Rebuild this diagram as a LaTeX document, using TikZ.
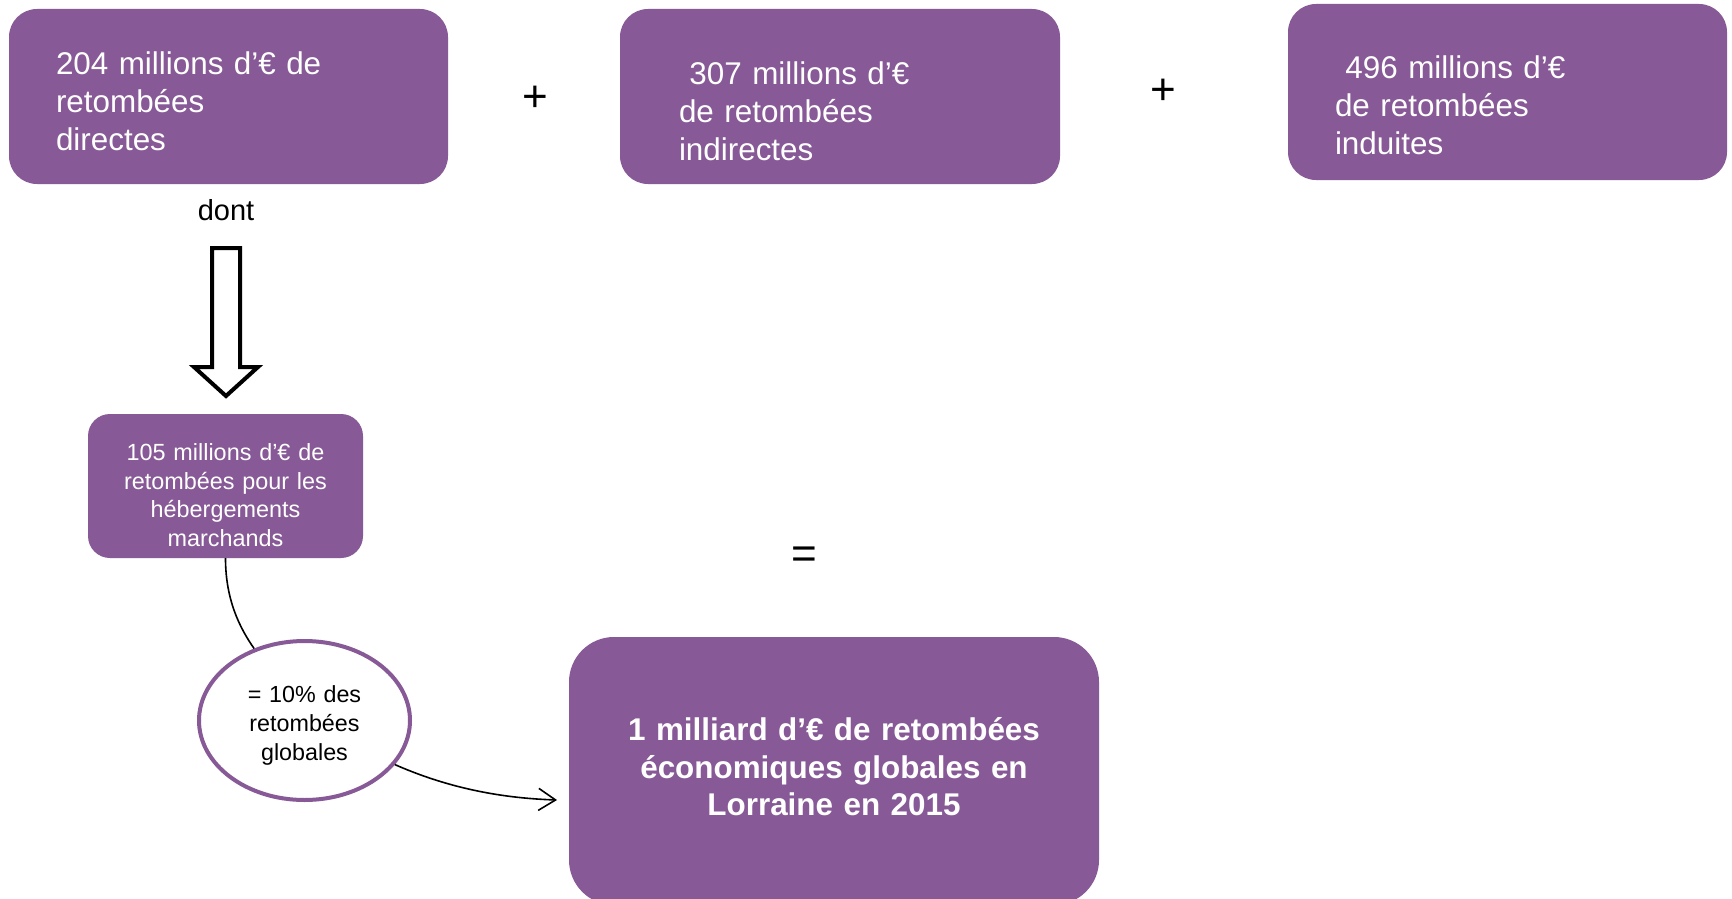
\documentclass[tikz,border=0pt]{standalone}
\usepackage{fontspec}
\setmainfont{Liberation Sans}
\usetikzlibrary{shapes,arrows.meta,positioning}
\definecolor{lorraine}{RGB}{135,89,150}

\begin{document}
\begin{tikzpicture}[
        x=1pt, y=-1pt,
        purple box/.style = {
            rectangle, fill=lorraine, text=white, rounded corners=28pt,
            inner xsep=#1, inner ysep=0pt, align=left,
            font=\fontsize{31.4}{38}\selectfont
        },
        purple box/.default = 47pt,
        sign/.style = {font=\fontsize{44}{50}\selectfont},
        link/.style = {line width=1.6pt}
    ]
    \fill[white] (0,0) rectangle (1732,899);
    \useasboundingbox (0,0) rectangle (1732,899);

    %nodes
    \node [purple box, minimum width=439, minimum height=175, text width=345, text height=32] (direct) at (228.5,96.5) {204 millions d’€ de\\retombées\\directes};
    \node [purple box=59pt, minimum width=440, minimum height=175, text width=322, text height=53] (indirect) at (840,96.5) {\ 307 millions d’€\\de retombées\\indirectes};
    \node [purple box, minimum width=439, minimum height=176, text width=345, text height=49] (induced) at (1507.5,92) {\ 496 millions d’€\\de retombées\\induites};
    \node [purple box=17.5pt, rounded corners=22pt, align=center, minimum width=275, minimum height=144, text width=240, text height=35, font=\fontsize{23.4}{28.7}\selectfont] (lodging) at (225.5,486) {105 millions d’€ de\\retombées pour les\\hébergements\\marchands};
    \node [purple box=35pt, rounded corners=45pt, align=center, minimum width=530, minimum height=268, text width=460, text height=15, font=\fontsize{31.4}{37.6}\selectfont\bfseries] (total) at (834,771) {1 milliard d’€ de retombées\\économiques globales en\\Lorraine en 2015};
    \node [ellipse, draw=lorraine, line width=4pt, fill=white, inner sep=0pt, minimum width=211, minimum height=159, align=center, text width=130, text height=27, font=\fontsize{23.3}{29}\selectfont] (share) at (304.5,720.5) {= 10\% des\\retombées\\globales};

    % signs
    \node [sign] (plus1) at (535,99) {+};
    \node [sign] (plus2) at (1163,92) {+};
    \node [sign] (equal) at (804,558) {=};
    \node [font=\fontsize{29}{34}\selectfont] (dont) at (226,210) {dont};

    % arrows
    \draw[line width=4pt, miter limit=10, fill=white] (212,248) -- (240,248) -- (240,367) -- (258,367) -- (226,396) -- (194,367) -- (212,367) -- cycle;
    \coordinate (arrowend) at (557,800);
    \draw[link] (lodging.south) .. controls +(0,42) and +(-14,-20) .. (share.125);
    \draw[link, -{Straight Barb[length=17pt, width=22pt, line width=1.6pt]}] (share.-26) .. controls +(50,22) and +(-60,-2) .. (arrowend);

\end{tikzpicture}
\end{document}
